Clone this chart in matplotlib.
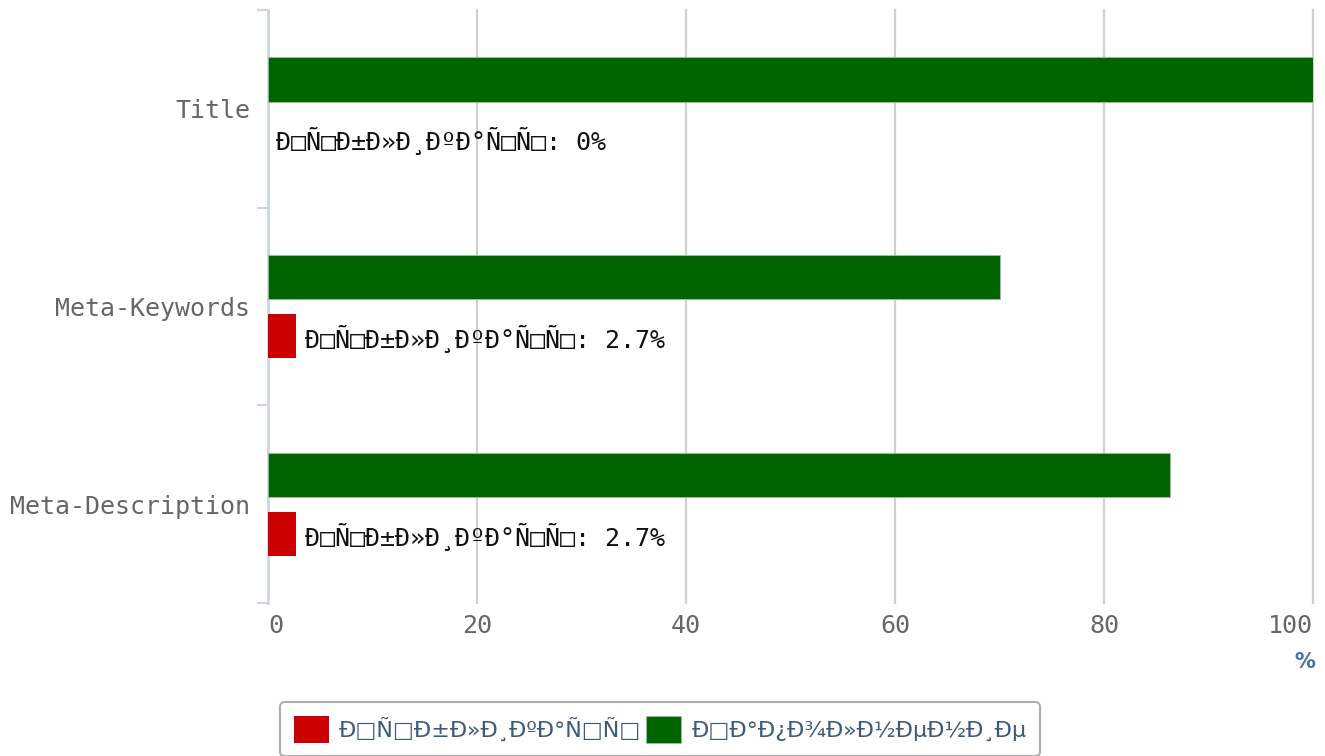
import matplotlib
matplotlib.use('Agg')
import matplotlib.pyplot as plt
import numpy as np

# data
categories = ['Title', 'Meta-Keywords', 'Meta-Description']
filled = [100, 70, 86.3]       # green series
published = [0, 2.7, 2.7]      # red series
series_names = ['Ð□Ñ□Ð±Ð»Ð¸ÐºÐ°Ñ□Ñ□', 'Ð□Ð°Ð¿Ð¾Ð»Ð½ÐµÐ½Ð¸Ðµ']
x_ticks = [0, 20, 40, 60, 80, 100]

RED = '#cc0000'
GREEN = '#006400'
MONO = 'DejaVu Sans Mono'

fig = plt.figure(figsize=(13.25, 7.56), dpi=100)
ax = fig.add_axes([0.2023, 0.2024, 0.991 - 0.2023, 0.9868 - 0.2024])

y = np.arange(len(categories))
h = 0.225
ax.barh(y - 0.148, filled, height=h, color=GREEN, edgecolor='#9fbf9f', linewidth=0.6,
        label=series_names[1], zorder=3)
ax.barh(y + 0.15, published, height=h, color=RED, linewidth=0,
        label=series_names[0], zorder=3)

for yi, v in zip(y, published):
    ax.annotate(f'{series_names[0]}: {v:g}%', xy=(v, yi + 0.15), xytext=(6, -2),
                textcoords='offset points', va='center', ha='left',
                fontsize=18, family=MONO, color='#111111', zorder=4)

ax.set_xlim(0, 100)
ax.set_ylim(2.5, -0.5)

ax.set_xticks(x_ticks)
ax.set_xticklabels([str(t) for t in x_ticks], family=MONO, fontsize=18, color='#666666')
ax.tick_params(axis='x', length=0, pad=8)
xlabels = ax.get_xticklabels()
xlabels[0].set_ha('left')
xlabels[-1].set_ha('right')
ax.grid(axis='x', color='#d0d0d0', linewidth=1.6, zorder=0)
for gl in ax.xaxis.get_gridlines():
    gl.set_clip_on(False)
ax.xaxis.get_gridlines()[0].set_visible(False)

# boundary ticks as major, category labels as minor
ax.set_yticks([-0.5, 0.5, 1.5, 2.5])
ax.set_yticklabels([])
ax.set_yticks(y, minor=True)
ax.set_yticklabels(categories, minor=True, family=MONO, fontsize=18, color='#666666')
ax.tick_params(axis='y', which='major', length=8, width=1.5, color='#ccd6eb', direction='out')
ax.tick_params(axis='y', which='minor', length=0, pad=13)

for s in ['top', 'right', 'bottom']:
    ax.spines[s].set_visible(False)
ax.spines['left'].set_color('#ccd6eb')
ax.spines['left'].set_linewidth(2)

fig.text(0.985, 0.124, '%', color='#4572a7', fontsize=15, fontweight='bold',
         ha='center', va='center')

handles, labels = ax.get_legend_handles_labels()
leg = fig.legend(handles[::-1], labels[::-1], loc='upper left',
                 bbox_to_anchor=(0.2115, 0.071), ncol=2, frameon=True, fancybox=True,
                 prop={'family': 'DejaVu Sans', 'size': 16},
                 labelcolor='#3e5a7a', handlelength=1.6, handleheight=1.5,
                 handletextpad=0.45, columnspacing=0.2, borderpad=0.6,
                 borderaxespad=0)
leg.get_frame().set_edgecolor('#999999')
leg.get_frame().set_linewidth(1.5)

plt.savefig('out.png', dpi=100)
